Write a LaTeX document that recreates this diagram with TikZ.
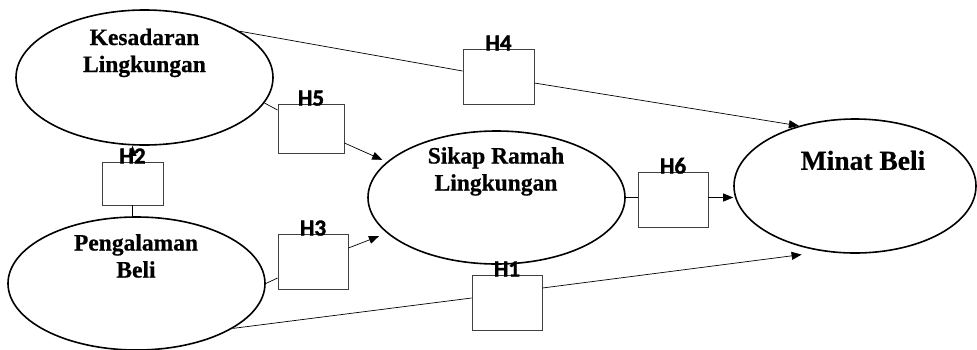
\documentclass[tikz,border=0pt]{standalone}
\usepackage{fontspec}
\setmainfont{Liberation Serif}[BoldFeatures={FakeBold=0.6}]
\newfontfamily\hfont{Carlito}[BoldFeatures={FakeBold=1.6}]
\usetikzlibrary{shapes.geometric,arrows.meta,calc}

\begin{document}
\begin{tikzpicture}[x=1pt,y=-1pt,
  construct/.style={ellipse,draw,line width=1.6pt,inner sep=0pt},
  hbox/.style={rectangle,draw=black!75,line width=0.9pt,fill=white,inner sep=0pt},
  hlabel/.style={font=\fontsize{23}{24}\hfont\bfseries,inner sep=0pt,anchor=base},
  ctext/.style={font=\bfseries\fontsize{23.5}{27}\selectfont,align=center,inner sep=0pt,anchor=north},
  link/.style={line width=0.7pt},
  arrow/.style={link,-{Triangle[length=10pt,width=8pt]}}
]
\useasboundingbox (0,0) rectangle (977,349);

% latent constructs
\node[construct,minimum width=257pt,minimum height=135pt] (kes) at (144.5,77.5) {};
\node[construct,minimum width=257pt,minimum height=133pt] (peng) at (136.5,283.5) {};
\node[construct,minimum width=257pt,minimum height=133pt] (sik) at (496.5,197.5) {};
\node[construct,minimum width=242pt,minimum height=134pt] (min) at (855,186) {};

\node[ctext] (kesT) at (144.5,28.5) {Kesadaran\\Lingkungan};
\node[ctext] (pengT) at (136,234) {Pengalaman\\Beli};
\node[ctext] (sikT) at (496,147) {Sikap Ramah\\Lingkungan};
\node[ctext,font=\bfseries\fontsize{27.5}{30}\selectfont] (minT) at (863,150.5) {Minat Beli};

% hypothesis boxes
\node[hbox,minimum width=71pt,minimum height=55pt] (h4) at (498.5,76.5) {};
\node[hbox,minimum width=66pt,minimum height=49pt] (h5) at (311,128.5) {};
\node[hbox,minimum width=61pt,minimum height=43pt] (h2) at (132.5,183.5) {};
\node[hbox,minimum width=70pt,minimum height=55pt] (h3) at (313,261.5) {};
\node[hbox,minimum width=70pt,minimum height=55pt] (h1) at (507,302.5) {};
\node[hbox,minimum width=70pt,minimum height=55pt] (h6) at (673,199.5) {};

% paths
\draw[link] (kes.26) -- ([yshift=5.5pt]h4.west);
\draw[arrow] ([yshift=-6.5pt]h4.east) -- (min.133);

\draw[link] (kes.-12.6) -- ([yshift=18.5pt]h5.west);
\draw[arrow,shorten >=5pt] ([yshift=-14.5pt]h5.east) -- (sik.162);

\draw[arrow] (h2.north) -- (h2.north |- kes.south);
\draw[link] (h2.south) -- (h2.south |- peng.north);

\draw[link] (peng.east) -- ([yshift=-16.5pt]h3.west);
\draw[arrow,shorten >=8.5pt] ([yshift=13.5pt]h3.east) -- (sik.198);

\draw[link] (peng.-25) -- ([yshift=4.5pt]h1.west);
\draw[arrow,shorten >=23pt] ([yshift=14.5pt]h1.east) -- (min.245);

\draw[link] (sik.east) -- (sik.east -| h6.west);
\draw[arrow] (h6.east |- sik.east) -- (sik.east -| min.west);

% hypothesis labels
\node[hlabel] (h4l) at ([yshift=-2pt]h4.north) {H4};
\node[hlabel] (h5l) at ([yshift=-2pt]h5.north) {H5};
\node[hlabel] (h2l) at ([yshift=-2pt]h2.north) {H2};
\node[hlabel] (h3l) at ([yshift=-2pt]h3.north) {H3};
\node[hlabel] (h1l) at ([yshift=-2pt]h1.north) {H1};
\node[hlabel] (h6l) at ([yshift=-2pt]h6.north) {H6};
\end{tikzpicture}
\end{document}
